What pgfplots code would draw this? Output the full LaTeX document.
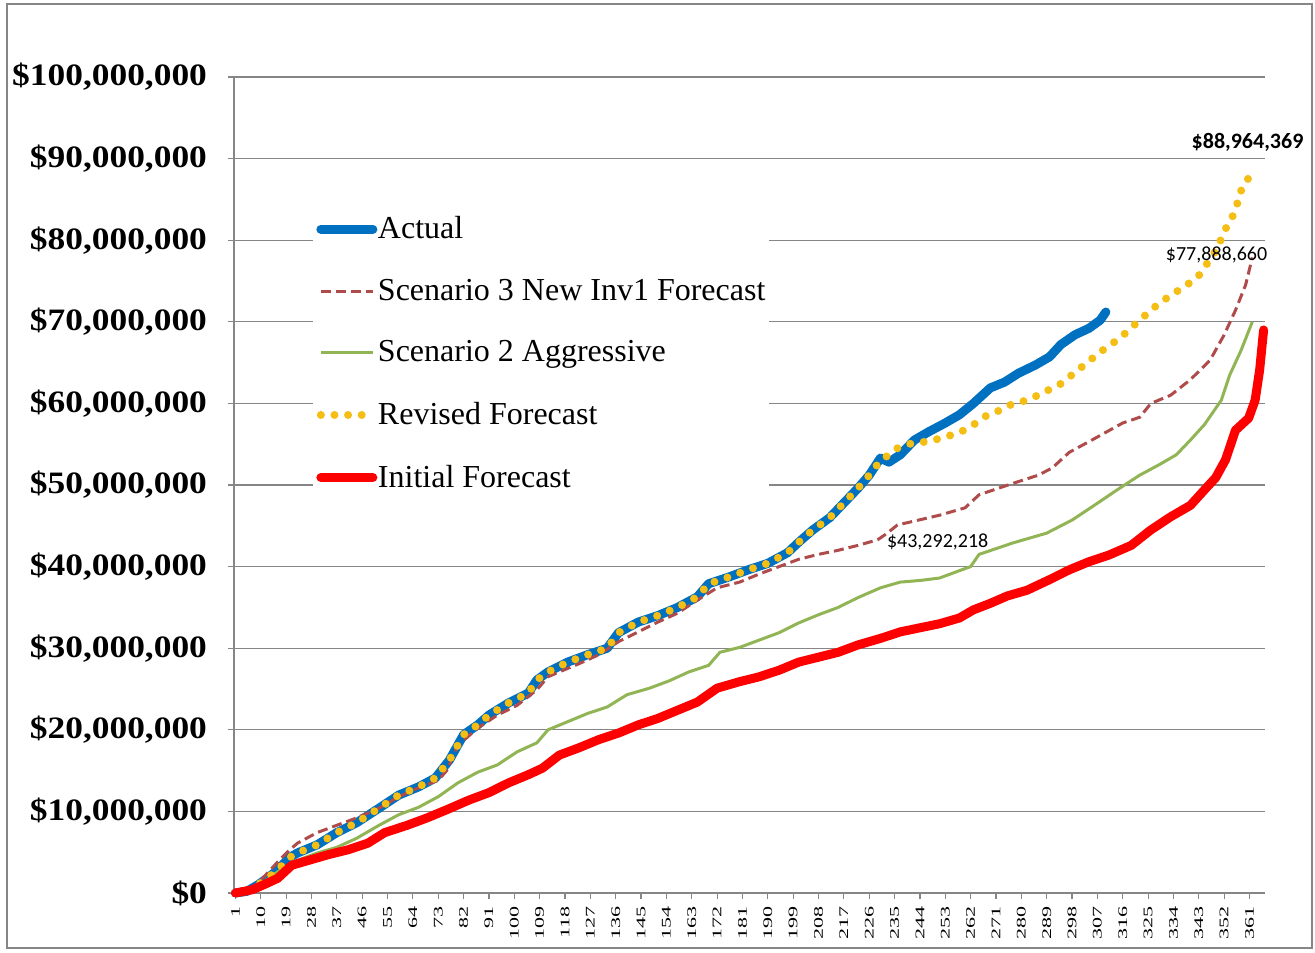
\documentclass[border=0pt]{standalone}
\usepackage{fontspec}
\setmainfont{Liberation Serif}
\newfontfamily\calibri{Carlito}
\usepackage{pgfplots}
\pgfplotsset{compat=1.18}
\definecolor{actblue}{RGB}{0,112,192}
\definecolor{scthree}{RGB}{175,75,75}
\definecolor{sctwo}{RGB}{145,180,85}
\definecolor{revy}{RGB}{245,190,20}
\definecolor{initred}{RGB}{255,0,0}
\definecolor{gridgray}{RGB}{134,134,134}
\newcommand\yl[1]{\scalebox{1}[0.88]{\$#1}}
\begin{document}
\begin{tikzpicture}
\path[use as bounding box] (0,0) rectangle (657.5pt,476pt);
\draw[gridgray, line width=0.6pt] (3.5pt,2pt) rectangle (656pt,474pt);
\begin{axis}[
  at={(117pt,29.5pt)}, anchor=south west,
  scale only axis, width=515.5pt, height=408pt,
  xmin=0.5, xmax=366.5, ymin=0, ymax=100,
  axis x line*=bottom, axis y line*=left,
  axis line style={gridgray, line width=0.6pt},
  ymajorgrids, grid style={gridgray, line width=0.6pt},
  ytick={0,10,...,100},
  yticklabels={{\yl{0}},{\yl{10,000,000}},{\yl{20,000,000}},{\yl{30,000,000}},{\yl{40,000,000}},{\yl{50,000,000}},{\yl{60,000,000}},{\yl{70,000,000}},{\yl{80,000,000}},{\yl{90,000,000}},{\yl{100,000,000}}},
  y tick label style={font=\fontsize{17.7}{21}\selectfont\bfseries, xshift=-7pt},
  xtick={1,10,...,361},
  xticklabel={\scalebox{1}[0.6]{\pgfmathprintnumber{\tick}}},
  x tick label style={rotate=90, anchor=east, font=\fontsize{11}{12}\selectfont},
  /pgf/number format/assume math mode=true,
  tick align=outside, major tick length=3pt, tick style={gridgray, line width=0.6pt},
  clip=false,
  legend style={at={(0.0766,0.849)}, anchor=north west, fill=white, draw=none,
    font=\fontsize{16}{19}\selectfont, row sep=14.7pt, inner xsep=1.5pt, inner ysep=6pt,
    nodes={inner xsep=0.3pt},
    cells={anchor=west}, /tikz/every even column/.append style={column sep=0pt}},
  legend image code/.code={\draw[#1] (0pt,0pt) -- (26pt,0pt);},
]
% Actual
\addplot[actblue, line width=4.5pt, line cap=round, line join=round] coordinates {
(1,0) (5,0.2) (9,1.0) (13,2.0) (16,2.8) (20,4.3) (23,4.9) (30,5.9) (37,7.4) (44,8.6)
(52,10.4) (59,12.0) (66,13.0) (72,14.1) (77,16.3) (82,19.4) (87,20.6) (91,21.8) (98,23.3)
(105,24.5) (108,26.1) (112,27.1) (119,28.3) (126,29.2) (133,30.0) (137,31.9) (144,33.2)
(151,34.0) (158,35.0) (165,36.3) (169,37.9) (176,38.7) (183,39.6) (190,40.4) (197,41.7)
(201,43.0) (206,44.5) (212,46.0) (217,47.8) (222,49.6) (226,51.2) (230,53.3) (233,52.8)
(237,53.7) (242,55.5) (247,56.5) (253,57.6) (258,58.6) (263,60.0) (269,61.9) (274,62.6)
(279,63.7) (285,64.7) (290,65.7) (294,67.2) (299,68.4) (304,69.2) (308,70.2) (310,71.2)
};
\addlegendentry{Actual}
% Scenario 3
\addplot[scthree, line width=1.5pt, dash pattern=on 5pt off 2.5pt] coordinates {
(1,0) (5,0.2) (9,1.2) (12,2.3) (16,3.8) (20,5.2) (23,6.1) (30,7.4) (37,8.3) (44,9.2)
(52,10.4) (59,11.8) (66,12.9) (73,13.8) (76,15.0) (80,18.1) (87,20.2) (94,21.8) (101,23.0)
(108,24.9) (112,26.5) (116,27.1) (123,28.1) (130,29.2) (137,30.8) (144,32.0) (151,33.2)
(158,34.3) (165,35.9) (172,37.4) (180,38.1) (187,39.1) (194,40.0) (201,40.9) (208,41.5)
(215,42.0) (222,42.6) (229,43.29) (232,44.0) (236,45.1) (251,46.3) (260,47.2) (265,48.8)
(277,50.2) (286,51.2) (291,52.1) (297,54.0) (305,55.5) (316,57.6) (322,58.3) (326,60.0)
(333,61.0) (340,62.9) (347,65.3) (352,68.4) (356,71.4) (359.6,74.5) (362,77.89)
};
\addlegendentry{Scenario 3 New Inv1 Forecast}
% Scenario 2
\addplot[sctwo, line width=1.5pt] coordinates {
(1,0) (5,0.1) (9,0.8) (16,2.6) (23,4.0) (30,4.9) (37,5.6) (44,6.7) (52,8.3) (59,9.6)
(66,10.5) (73,11.8) (80,13.5) (87,14.8) (94,15.7) (101,17.3) (108,18.4) (112,20.0)
(119,21.0) (126,22.0) (133,22.8) (140,24.3) (148,25.1) (155,26.0) (162,27.1) (169,27.9)
(173,29.5) (180,30.1) (187,31.0) (194,31.9) (201,33.1) (208,34.1) (215,35.0) (222,36.2)
(230,37.4) (237,38.1) (244,38.3) (251,38.6) (258,39.5) (262,40.0) (265,41.5) (277,42.9)
(289,44.1) (298,45.7) (305,47.3) (314,49.4) (322,51.2) (329,52.5) (335,53.7) (340,55.5)
(345,57.4) (351,60.4) (354,63.5) (358,66.5) (362,70.0)
};
\addlegendentry{Scenario 2 Aggressive}
% Revised
\addplot[revy, line width=4pt, line cap=round, dash pattern=on 0pt off 6.8pt] coordinates {
(1,0) (5,0.2) (9,1.0) (13,2.0) (16,2.8) (20,4.3) (23,4.9) (30,5.9) (37,7.4) (44,8.6)
(52,10.4) (59,12.0) (66,13.0) (72,14.1) (77,16.3) (82,19.4) (87,20.6) (91,21.8) (98,23.3)
(105,24.5) (108,26.1) (112,27.1) (119,28.3) (126,29.2) (133,30.0) (137,31.9) (144,33.2)
(151,34.0) (158,35.0) (165,36.3) (169,37.9) (176,38.7) (183,39.6) (190,40.4) (197,41.7)
(201,43.0) (206,44.5) (212,46.0) (217,47.8) (222,49.6) (226,51.2) (230,53.0) (233,53.7)
(236,54.5) (241,55.1) (246,55.3) (250,55.6) (255,56.1) (259,56.6) (264,57.6) (268,58.6)
(272,59.1) (276,59.8) (281,60.3) (286,61.0) (290,61.7) (294,62.4) (298,63.5) (308,66.3)
(315,68.0) (322,70.2) (329,72.3) (336,73.9) (342.5,75.4) (345,76.7) (348,78.1) (350.4,79.7)
(352,81.1) (354.6,82.6) (356.4,84.1) (357.5,85.8) (360,87.1) (362,88.96)
};
\addlegendentry{Revised Forecast}
% Initial
\addplot[initred, line width=4.5pt, line cap=round, line join=round] coordinates {
(1,0) (7,0.4) (11,1.0) (16,1.8) (21,3.4) (27,4.0) (34,4.7) (41,5.3) (48,6.1) (54,7.4)
(62,8.3) (69,9.2) (76,10.2) (84,11.4) (91,12.3) (98,13.5) (105,14.5) (110,15.3) (116,16.9)
(123,17.8) (130,18.8) (137,19.6) (144,20.6) (151,21.4) (158,22.4) (165,23.4) (172,25.1)
(180,25.9) (187,26.5) (194,27.3) (201,28.3) (208,28.9) (215,29.5) (222,30.4) (230,31.2)
(237,32.0) (244,32.5) (251,33.0) (258,33.7) (263,34.7) (269,35.5) (275,36.4) (282,37.1)
(290,38.4) (297,39.6) (304,40.6) (311,41.4) (319,42.6) (326,44.5) (333,46.1) (340,47.5)
(345,49.4) (349,50.9) (352.5,53.1) (356,56.7) (360.7,58.2) (363,60.4) (364.6,64.1) (366,69.0)
};
\addlegendentry{Initial Forecast}
\node[font=\fontsize{11}{13}\calibri\bfseries] at (axis cs:360.3,92) {\$88,964,369};
\node[font=\fontsize{10}{12}\calibri] at (axis cs:349.3,78.2) {\$77,888,660};
\node[font=\fontsize{10}{12}\calibri] at (axis cs:250.3,43.0) {\$43,292,218};
\end{axis}
\end{tikzpicture}
\end{document}
